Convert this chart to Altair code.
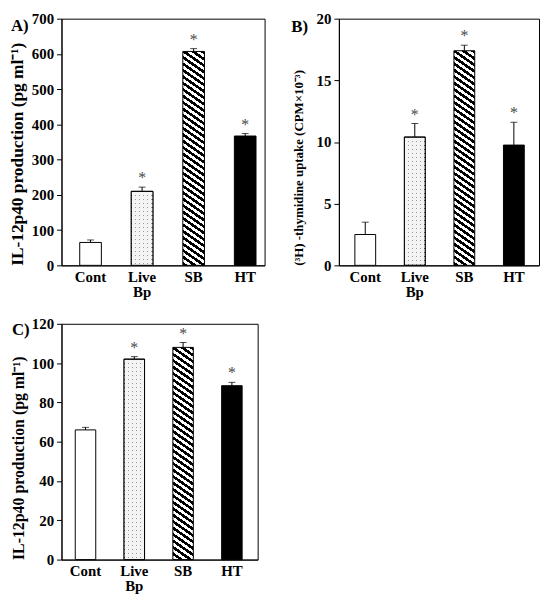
import math
import altair as alt
import pandas as pd

groups = ["Cont", "Live Bp", "SB", "HT"]
sig = ["", "*", "*", "*"]

a_vals = [65, 210, 607, 367]
a_errs = [7, 12, 8, 7]
b_vals = [2.5, 10.4, 17.4, 9.75]
b_errs = [1.0, 1.1, 0.45, 1.85]
c_vals = [66, 102, 108, 88.5]
c_errs = [1.3, 1.3, 2.5, 1.7]

a_ticks = [0, 100, 200, 300, 400, 500, 600, 700]
b_ticks = [0, 5, 10, 15, 20]
c_ticks = [0, 20, 40, 60, 80, 100, 120]

FONT = "Liberation Serif"
PI = 0.58


def stripes(w, h, m=0.7, period=6.5):
    F = m * w + h
    k = F / ((m * w) ** 2 + h ** 2)
    n = F / period
    stops = []
    for i in range(int(math.ceil(n))):
        a = min(i / n, 1)
        b = min((i + 0.5) / n, 1)
        c = min((i + 1) / n, 1)
        stops += [{"offset": round(a, 5), "color": "black"},
                  {"offset": round(b, 5), "color": "black"},
                  {"offset": round(b, 5), "color": "white"},
                  {"offset": round(c, 5), "color": "white"}]
    return {"gradient": "linear", "x1": 1, "y1": 0,
            "x2": round(1 - m * w * k, 5), "y2": round(h * k, 5), "stops": stops}


def lines(length, vertical, on, off, period=4.0, frac=0.25):
    n = length / period
    stops = []
    for i in range(int(math.ceil(n))):
        a = min(i / n, 1)
        b = min((i + frac) / n, 1)
        c = min((i + 1) / n, 1)
        stops += [{"offset": round(a, 5), "color": on},
                  {"offset": round(b, 5), "color": on},
                  {"offset": round(b, 5), "color": off},
                  {"offset": round(c, 5), "color": off}]
    if vertical:
        return {"gradient": "linear", "x1": 0, "y1": 0, "x2": 0, "y2": 1, "stops": stops}
    return {"gradient": "linear", "x1": 0, "y1": 0, "x2": 1, "y2": 0, "stops": stops}


def panel(vals, errs, ticks, title, tsize, letter, width, height, po, align,
          tpad, lx, ly):
    ymax = ticks[-1]
    df = pd.DataFrame({"g": groups, "v": vals, "e": errs, "sig": sig})
    df["hi"] = df["v"] + df["e"]
    step = width / (4 - PI + 2 * po)
    bw = step * (1 - PI)
    h_sb = vals[2] / ymax * height
    h_lv = vals[1] / ymax * height
    sb_grad = stripes(bw, h_sb)
    dots_x = lines(bw, False, "#9a9a9a", "#f4f4f4")
    dots_y = lines(h_lv, True, "rgba(255,255,255,0)", "#f4f4f4")

    x = alt.X("g:N", sort=groups,
              scale=alt.Scale(domain=groups, paddingInner=PI, paddingOuter=po, align=align),
              axis=alt.Axis(title=None, labelAngle=0, ticks=False, tickSize=0,
                            labelPadding=4, labelFontSize=15, labelLineHeight=15,
                            labelExpr="datum.value == 'Live Bp' ? ['Live', 'Bp'] : datum.label"))
    yscale = alt.Scale(domain=[0, ymax], nice=False, zero=True)
    yaxis = alt.Axis(values=ticks, title=title, titlePadding=tpad, titleFontSize=tsize,
                     titleAnchor="start", grid=False, labelOverlap=False)

    def Y(field):
        return alt.Y(field, scale=yscale, axis=yaxis, title=title)

    base = alt.Chart(df)
    bars = base.mark_bar(stroke="black", strokeWidth=1).encode(
        x=x, y=Y("v:Q"),
        fill=alt.Fill("g:N", scale=alt.Scale(domain=groups,
                                             range=["white", "white", "white", "black"]),
                      legend=None,
                      condition=[{"test": "datum.g === 'SB'", "value": sb_grad},
                                 {"test": "datum.g === 'Live Bp'", "value": dots_x}]))
    over = base.transform_filter("datum.g === 'Live Bp'").mark_bar(
        stroke="black", strokeWidth=1).encode(x=x, y=Y("v:Q"), fill=alt.value(dots_y))
    rule = base.mark_rule(color="black", strokeWidth=1).encode(
        x=x, y=Y("v:Q"), y2="hi:Q")
    cap = base.mark_tick(color="black", thickness=1, size=7).encode(x=x, y=Y("hi:Q"))
    star = base.mark_text(font=FONT, fontSize=16, color="#4a4a4a", baseline="alphabetic",
                          dy=-4).encode(x=x, y=Y("hi:Q"), text="sig:N")
    lab = alt.Chart(pd.DataFrame({"t": [letter]})).mark_text(
        font=FONT, fontSize=17, fontWeight="bold", align="left", baseline="alphabetic",
        color="black").encode(x=alt.value(lx), y=alt.value(ly), text="t:N")
    return alt.layer(bars, over, rule, cap, star, lab).properties(width=width, height=height)


pa = panel(a_vals, a_errs, a_ticks, "IL-12p40 production (pg ml\u207b\u00b9)", 17.5, "A)",
           205, 249, 0.26, 0.68, 5, -51, 12)
pb = panel(b_vals, b_errs, b_ticks, "(\u00b3H) -thymidine uptake (CPM\u00d710\u207b\u00b3)", 13,
           "B)", 202, 249, 0.31, 0.52, 11, -48, 13)
pc = panel(c_vals, c_errs, c_ticks, "IL-12p40 production (pg ml\u207b\u00b9)", 16, "C)",
           198, 238, 0.30, 0.47, 5, -50, 11)

chart = alt.vconcat(alt.hconcat(pa, pb, spacing=25), pc, spacing=16).properties(
    padding=0
).configure_view(stroke="black", strokeWidth=1).configure_axis(
    labelFont=FONT, titleFont=FONT, labelFontWeight="bold", titleFontWeight="bold",
    labelFontSize=15, labelColor="black", titleColor="black",
    domainColor="black", tickColor="black", tickSize=5, labelPadding=3,
    domainWidth=1, tickWidth=1
)

chart.save("out.html", embed_options={"renderer": "svg", "actions": False})
